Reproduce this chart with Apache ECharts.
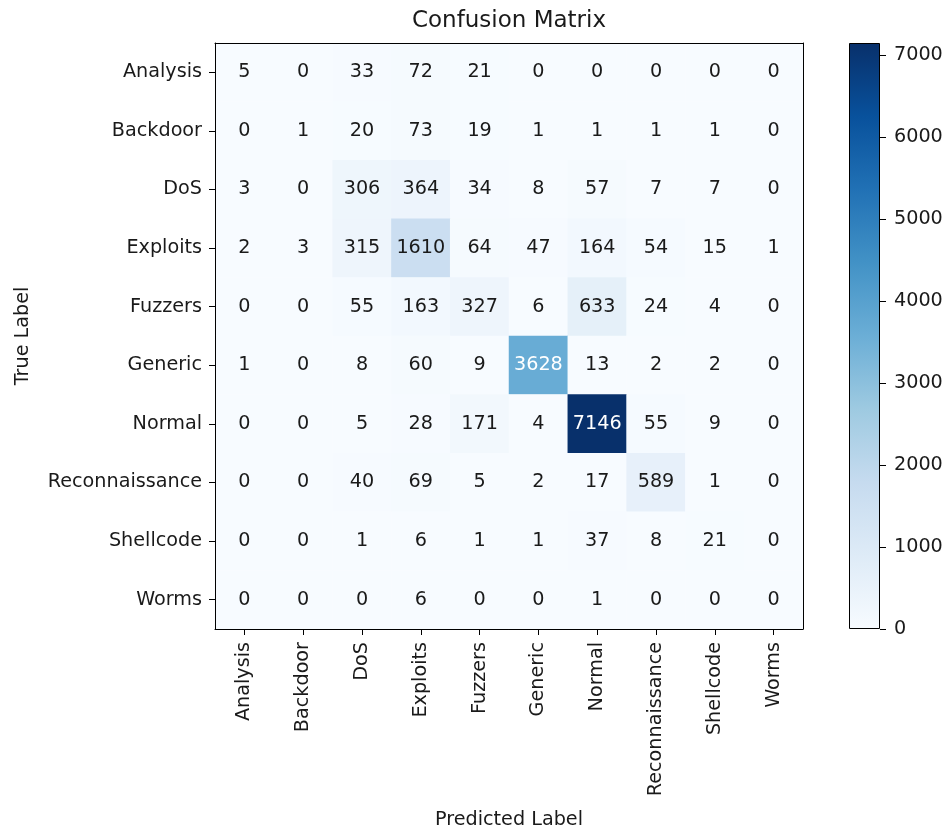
<!DOCTYPE html>
<html>
<head>
<meta charset="utf-8">
<script src="https://cdn.jsdelivr.net/npm/echarts@6/dist/echarts.min.js"></script>
<style>
html,body{margin:0;padding:0;background:#fff;}
#chart{width:946px;height:831px;}
</style>
</head>
<body>
<div id="chart"></div>
<script>
const categories = ['Analysis','Backdoor','DoS','Exploits','Fuzzers','Generic','Normal','Reconnaissance','Shellcode','Worms'];
const rowAnalysis       = [5,0,33,72,21,0,0,0,0,0];
const rowBackdoor       = [0,1,20,73,19,1,1,1,1,0];
const rowDoS            = [3,0,306,364,34,8,57,7,7,0];
const rowExploits       = [2,3,315,1610,64,47,164,54,15,1];
const rowFuzzers        = [0,0,55,163,327,6,633,24,4,0];
const rowGeneric        = [1,0,8,60,9,3628,13,2,2,0];
const rowNormal         = [0,0,5,28,171,4,7146,55,9,0];
const rowReconnaissance = [0,0,40,69,5,2,17,589,1,0];
const rowShellcode      = [0,0,1,6,1,1,37,8,21,0];
const rowWorms          = [0,0,0,6,0,0,1,0,0,0];
const colorbarTicks = [0,1000,2000,3000,4000,5000,6000,7000];

const matrix = [rowAnalysis,rowBackdoor,rowDoS,rowExploits,rowFuzzers,rowGeneric,rowNormal,rowReconnaissance,rowShellcode,rowWorms];
const blues = ['#f7fbff','#deebf7','#c6dbef','#9ecae1','#6baed6','#4292c6','#2171b5','#08519c','#08306b'];
const FONT = 'DejaVu Sans';
const FS = 19.2;
const INK = '#1a1a1a';

let maxVal = 0;
matrix.forEach(r => r.forEach(v => { if (v > maxVal) maxVal = v; }));
const thresh = maxVal / 2;

const heatData = [];
matrix.forEach((row, yi) => {
  row.forEach((v, xi) => {
    heatData.push({ value: [xi, yi, v], label: { color: v > thresh ? '#ffffff' : INK } });
  });
});

const gradStops = blues.map((c, i) => ({ offset: i / (blues.length - 1), color: c }));

const chart = echarts.init(document.getElementById('chart'), null, { renderer: 'canvas' });
const axisText = { color: INK, fontFamily: FONT, fontSize: FS };

chart.setOption({
  animation: false,
  backgroundColor: '#ffffff',
  title: {
    text: 'Confusion Matrix',
    left: 509, top: 10, padding: 0,
    textAlign: 'center',
    textStyle: { color: INK, fontFamily: FONT, fontSize: 23, fontWeight: 'normal' }
  },
  grid: [
    { left: 215, top: 43, width: 588, height: 586, containLabel: false, outerBoundsMode: 'none' },
    { left: 849, top: 43, width: 31, height: 586, containLabel: false, outerBoundsMode: 'none' }
  ],
  xAxis: [
    {
      type: 'category', gridIndex: 0, data: categories, position: 'bottom', z: 10,
      axisLine: { show: true, lineStyle: { color: '#000', width: 1 } },
      axisTick: { show: true, alignWithLabel: true, length: 6, lineStyle: { color: '#000' } },
      axisLabel: Object.assign({ rotate: 90, margin: 13, interval: 0 }, axisText),
      splitLine: { show: false },
      name: 'Predicted Label', nameLocation: 'middle', nameGap: 182,
      nameTextStyle: axisText
    },
    {
      type: 'category', gridIndex: 0, data: categories, position: 'top', z: 10,
      axisLine: { show: true, lineStyle: { color: '#000', width: 1 } },
      axisTick: { show: false }, axisLabel: { show: false }, splitLine: { show: false }
    },
    {
      type: 'category', gridIndex: 1, data: [''], z: 10,
      axisLine: { show: false }, axisTick: { show: false }, axisLabel: { show: false }
    }
  ],
  yAxis: [
    {
      type: 'category', gridIndex: 0, data: categories, inverse: true, position: 'left', z: 10,
      axisLine: { show: true, lineStyle: { color: '#000', width: 1 } },
      axisTick: { show: true, alignWithLabel: true, length: 6, lineStyle: { color: '#000' } },
      axisLabel: Object.assign({ margin: 13, interval: 0 }, axisText),
      splitLine: { show: false },
      name: 'True Label', nameLocation: 'middle', nameGap: 182,
      nameTextStyle: axisText
    },
    {
      type: 'category', gridIndex: 0, data: categories, inverse: true, position: 'right', z: 10,
      axisLine: { show: true, lineStyle: { color: '#000', width: 1 } },
      axisTick: { show: false }, axisLabel: { show: false }, splitLine: { show: false }
    },
    {
      type: 'value', gridIndex: 1, position: 'right', min: 0, max: maxVal, z: 10,
      axisLine: { show: false },
      axisTick: { show: true, length: 6, lineStyle: { color: '#000' }, customValues: colorbarTicks },
      axisLabel: Object.assign({ margin: 14, customValues: colorbarTicks, formatter: v => String(v) }, axisText),
      splitLine: { show: false }
    }
  ],
  visualMap: {
    show: false, type: 'continuous', seriesIndex: 0, dimension: 2,
    min: 0, max: maxVal, inRange: { color: blues }
  },
  series: [
    {
      type: 'heatmap', xAxisIndex: 0, yAxisIndex: 0, data: heatData,
      label: { show: true, fontFamily: FONT, fontSize: FS },
      itemStyle: { borderWidth: 0 },
      emphasis: { disabled: true }
    },
    {
      type: 'bar', xAxisIndex: 2, yAxisIndex: 2, data: [maxVal],
      barWidth: '100%', silent: true,
      itemStyle: {
        color: new echarts.graphic.LinearGradient(0, 1, 0, 0, gradStops),
        borderColor: '#000', borderWidth: 1
      }
    }
  ]
});
</script>
</body>
</html>
